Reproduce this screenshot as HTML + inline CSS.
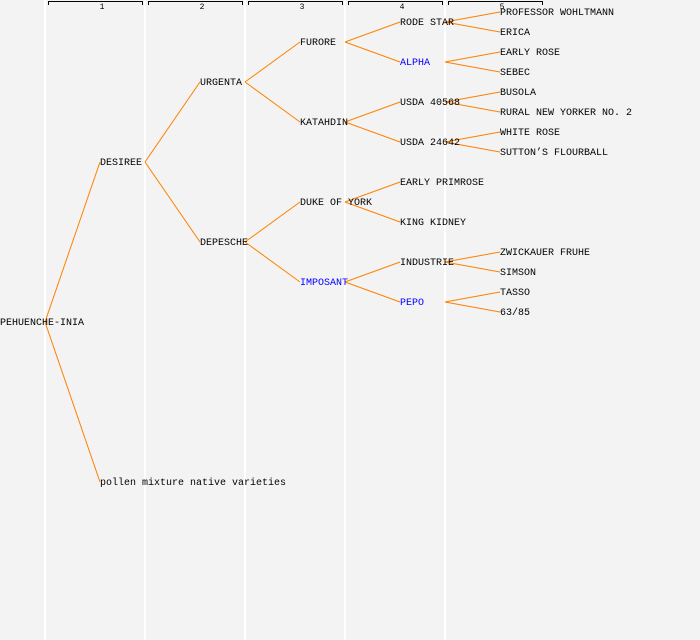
<!DOCTYPE html>
<html><head><meta charset="utf-8"><style>
html,body{margin:0;padding:0;background:#f3f3f3;}
svg{display:block}
text{font-family:"Liberation Mono",monospace;font-size:10px;fill:#000}
.b{fill:#0000ff}
</style></head><body>
<svg width="700" height="640" viewBox="0 0 700 640">
<rect width="700" height="640" fill="#f3f3f3"/>
<g stroke="#ffffff" stroke-width="2">
<line x1="45" y1="0" x2="45" y2="640"/><line x1="145" y1="0" x2="145" y2="640"/>
<line x1="245" y1="0" x2="245" y2="640"/><line x1="345" y1="0" x2="345" y2="640"/>
<line x1="445" y1="0" x2="445" y2="640"/>
</g>
<g stroke="#000" stroke-width="1" fill="none">
<path d="M48.5 5V1.5H142.5V5"/><path d="M148.5 5V1.5H242.5V5"/><path d="M248.5 5V1.5H342.5V5"/>
<path d="M348.5 5V1.5H442.5V5"/><path d="M448.5 5V1.5H542.5V5"/>
</g>
<g text-anchor="middle">
<text x="102" y="9" style="font-size:8px">1</text><text x="202" y="9" style="font-size:8px">2</text>
<text x="302" y="9" style="font-size:8px">3</text><text x="402" y="9" style="font-size:8px">4</text>
<text x="502" y="9" style="font-size:8px">5</text>
</g>
<g stroke="#ff8000" stroke-width="1" fill="none">
<line x1="45" y1="322" x2="100" y2="162"/><line x1="45" y1="322" x2="100" y2="482"/>
<line x1="145" y1="162" x2="200" y2="82"/><line x1="145" y1="162" x2="200" y2="242"/>
<line x1="245" y1="82" x2="300" y2="42"/><line x1="245" y1="82" x2="300" y2="122"/>
<line x1="245" y1="242" x2="300" y2="202"/><line x1="245" y1="242" x2="300" y2="282"/>
<line x1="345" y1="42" x2="400" y2="22"/><line x1="345" y1="42" x2="400" y2="62"/>
<line x1="345" y1="122" x2="400" y2="102"/><line x1="345" y1="122" x2="400" y2="142"/>
<line x1="345" y1="202" x2="400" y2="182"/><line x1="345" y1="202" x2="400" y2="222"/>
<line x1="345" y1="282" x2="400" y2="262"/><line x1="345" y1="282" x2="400" y2="302"/>
<line x1="445" y1="22" x2="500" y2="12"/><line x1="445" y1="22" x2="500" y2="32"/>
<line x1="445" y1="62" x2="500" y2="52"/><line x1="445" y1="62" x2="500" y2="72"/>
<line x1="445" y1="102" x2="500" y2="92"/><line x1="445" y1="102" x2="500" y2="112"/>
<line x1="445" y1="142" x2="500" y2="132"/><line x1="445" y1="142" x2="500" y2="152"/>
<line x1="445" y1="262" x2="500" y2="252"/><line x1="445" y1="262" x2="500" y2="272"/>
<line x1="445" y1="302" x2="500" y2="292"/><line x1="445" y1="302" x2="500" y2="312"/>
</g>
<g transform="translate(0,-1)">
<text x="0" y="326">PEHUENCHE-INIA</text>
<text x="100" y="166">DESIREE</text>
<text x="100" y="486">pollen mixture native varieties</text>
<text x="200" y="86">URGENTA</text>
<text x="200" y="246">DEPESCHE</text>
<text x="300" y="46">FURORE</text>
<text x="300" y="126">KATAHDIN</text>
<text x="300" y="206">DUKE OF YORK</text>
<text x="300" y="286" class="b">IMPOSANT</text>
<text x="400" y="26">RODE STAR</text>
<text x="400" y="66" class="b">ALPHA</text>
<text x="400" y="106">USDA 40568</text>
<text x="400" y="146">USDA 24642</text>
<text x="400" y="186">EARLY PRIMROSE</text>
<text x="400" y="226">KING KIDNEY</text>
<text x="400" y="266">INDUSTRIE</text>
<text x="400" y="306" class="b">PEPO</text>
<text x="500" y="16">PROFESSOR WOHLTMANN</text>
<text x="500" y="36">ERICA</text>
<text x="500" y="56">EARLY ROSE</text>
<text x="500" y="76">SEBEC</text>
<text x="500" y="96">BUSOLA</text>
<text x="500" y="116">RURAL NEW YORKER NO. 2</text>
<text x="500" y="136">WHITE ROSE</text>
<text x="500" y="156">SUTTON’S FLOURBALL</text>
<text x="500" y="256">ZWICKAUER FRUHE</text>
<text x="500" y="276">SIMSON</text>
<text x="500" y="296">TASSO</text>
<text x="500" y="316">63/85</text>
</g>
</svg>
</body></html>
